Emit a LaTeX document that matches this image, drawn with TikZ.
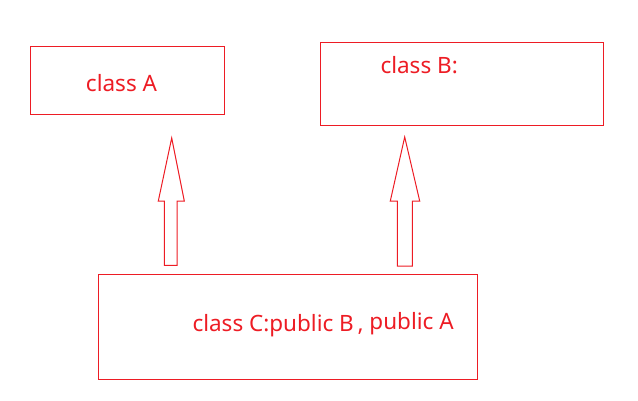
\documentclass[tikz,border=0pt]{standalone}
\usepackage{fontspec}
\setmainfont{Noto Sans}
\usetikzlibrary{positioning}
\definecolor{paintred}{RGB}{237, 28, 36}

\begin{document}
\begin{tikzpicture}[x=1pt, y=-1pt, line width=1pt]
        \tikzset{classbox/.style={draw=paintred, rectangle, inner sep=0pt},
                 classtext/.style={text=paintred, font=\fontsize{22.5}{26}\selectfont, inner sep=0pt},
                 uparrow/.style={draw=paintred, line join=miter}}
        \useasboundingbox (0,0) rectangle (638,400);

        % Classes
        \node[classbox, minimum width=194pt, minimum height=68pt] (boxA) at (127.3,80) {};
        \node[classbox, minimum width=283pt, minimum height=83pt] (boxB) at (461.8,83.8) {};
        \node[classbox, minimum width=379pt, minimum height=105pt] (boxC) at (287.5,326.5) {};
        \node[classtext, anchor=base] (nameA) at (121.5,91) {class A};
        \node[classtext, anchor=base west] (nameB) at (380,73) {class B:};
        \node[classtext, anchor=base west] (nameC) at (192,331) {class C:public B\,, \raisebox{1.5pt}{public A}};

        % Inheritance arrows
        \draw[uparrow] (164.3,265.3) -- (164.3,201) -- (158.3,201) -- (171.7,138) -- (184.3,201) -- (177,201) -- (177,265.3) -- cycle;
        \draw[uparrow] (397.3,266) -- (397.3,201) -- (390.3,201) -- (404.7,137) -- (419.7,201) -- (412.3,201) -- (412.3,266) -- cycle;
    \end{tikzpicture}
\end{document}
